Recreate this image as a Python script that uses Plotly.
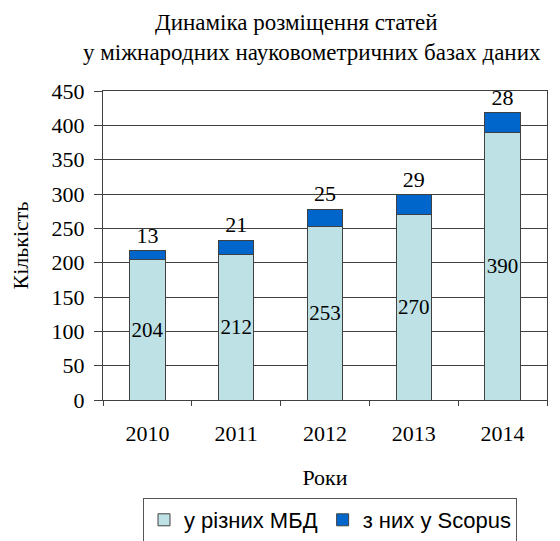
import plotly.graph_objects as go

years = ["2010", "2011", "2012", "2013", "2014"]
all_dbs = [204, 212, 253, 270, 390]
scopus = [13, 21, 25, 29, 28]
y_ticks = [0, 50, 100, 150, 200, 250, 300, 350, 400, 450]

serif = "Liberation Serif"
sans = "Liberation Sans"

# page body adds an 8px offset; work in figure pixels
OFF = 8
W, H = 560 - OFF, 541 - OFF
L, R, T, B = 103 - OFF, 547 - OFF, 91 - OFF, 400 - OFF
PW, PH = R - L, B - T


def px_to_paper(px, py):
    return (px - OFF - L) / PW, (B - (py - OFF)) / PH


fig = go.Figure()
fig.add_trace(go.Bar(
    x=years, y=all_dbs, name="у різних МБД",
    marker=dict(color="#BDE1E4", line=dict(color="#404040", width=1)),
    text=[str(v) for v in all_dbs], textposition="inside", insidetextanchor="middle",
    textangle=0, constraintext="none",
    textfont=dict(family=serif, size=21, color="black"), width=0.4,
))
fig.add_trace(go.Bar(
    x=years, y=scopus, name="з них у Scopus",
    marker=dict(color="#0066CC", line=dict(color="#404040", width=1)),
    text=[str(v) for v in scopus], textposition="outside", textangle=0,
    constraintext="none",
    textfont=dict(family=serif, size=22, color="black"), width=0.4,
    cliponaxis=False,
))

fig.update_layout(
    width=W, height=H, barmode="stack",
    paper_bgcolor="white", plot_bgcolor="white",
    margin=dict(l=L, r=W - R, t=T, b=H - B, autoexpand=False),
    font=dict(family=serif, size=21, color="black"),
    showlegend=True,
    legend=dict(orientation="h", xref="container", yref="container",
                x=(143 - OFF) / W, y=(H - (498 - OFF)) / H, xanchor="left", yanchor="top",
                traceorder="normal",
                bordercolor="#555555", borderwidth=1,
                font=dict(family=sans, size=22, color="black")),
)

for text, px, py in [("Динаміка розміщення статей", 296, 22),
                     ("у міжнародних науковометричних базах даних", 312, 52)]:
    ax, ay = px_to_paper(px, py)
    fig.add_annotation(text=text, x=ax, y=ay, xref="paper", yref="paper",
                       showarrow=False, xanchor="center", yanchor="middle",
                       font=dict(family=serif, size=23, color="black"))

fig.update_xaxes(
    automargin=False,
    showline=True, linecolor="#404040", linewidth=1, mirror=True,
    ticks="outside", tickson="boundaries", ticklen=5, tickcolor="#404040",
    tickfont=dict(family=serif, size=22), ticklabelstandoff=14,
    title=dict(text="Роки", font=dict(family=serif, size=22), standoff=24),
)
fig.update_yaxes(
    automargin=False,
    range=[0, 450], tickvals=y_ticks, showgrid=True, gridcolor="#404040", gridwidth=1,
    showline=True, linecolor="#404040", linewidth=1, mirror=True,
    ticks="outside", ticklen=8, tickcolor="#404040",
    tickfont=dict(family=serif, size=22), ticklabelstandoff=5,
    title=dict(text="Кількість", font=dict(family=serif, size=22), standoff=19),
    zeroline=False,
)

fig.write_html("out.html")
